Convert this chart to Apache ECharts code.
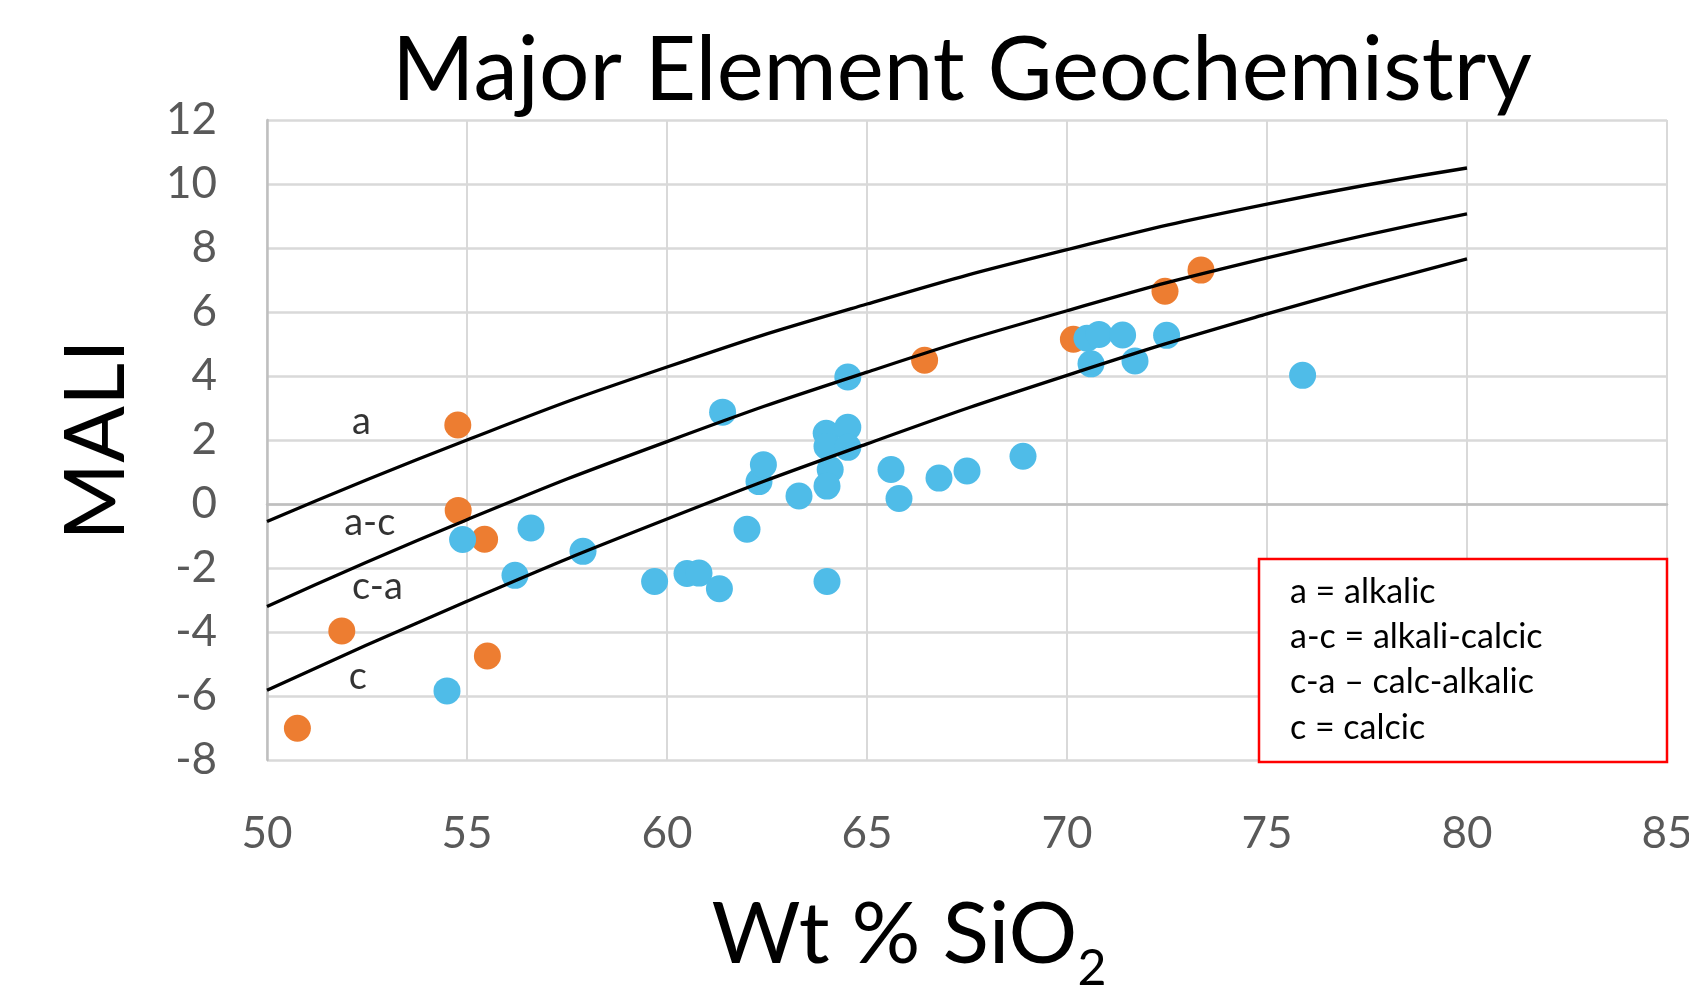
<!DOCTYPE html>
<html>
<head>
<meta charset="utf-8">
<script src="https://cdn.jsdelivr.net/npm/echarts@6/dist/echarts.min.js"></script>
<style>
  html, body { margin: 0; padding: 0; background: #fff; }
  #chart { width: 1689px; height: 989px; }
</style>
</head>
<body>
<div id="chart"></div>
<script>
// samples: [wt% SiO2, MALI]
const orangeSamples = [
  [50.76, -7.01], [51.87, -3.97], [54.77, 2.47], [54.78, -0.2], [55.44, -1.1],
  [55.51, -4.75], [66.44, 4.49], [70.16, 5.15], [72.45, 6.65], [73.35, 7.31]
];
const blueSamples = [
  [54.89, -1.11], [54.5, -5.84], [56.2, -2.23], [56.6, -0.75], [57.9, -1.48],
  [59.69, -2.42], [60.5, -2.17], [60.8, -2.16], [61.31, -2.65], [61.39, 2.87],
  [62.0, -0.79], [62.3, 0.7], [62.41, 1.23], [63.3, 0.25], [63.98, 2.21],
  [64.0, 1.8], [64.08, 1.08], [64.0, 0.56], [64.0, -2.42], [64.52, 3.97],
  [64.52, 2.4], [64.52, 1.77], [65.6, 1.08], [65.8, 0.17], [66.8, 0.81],
  [67.5, 1.03], [68.9, 1.49], [70.5, 5.18], [70.8, 5.3], [70.6, 4.38],
  [71.39, 5.28], [71.7, 4.47], [72.49, 5.27], [75.89, 4.02]
];

// boundary curves, read every 5 wt% SiO2
const curveSiO2 = [50, 55, 60, 65, 70, 75, 80];
const alkalicBoundary = [-0.55, 2.0, 4.28, 6.25, 7.95, 9.37, 10.5];
const alkaliCalcicBoundary = [-3.2, -0.49, 1.95, 4.12, 6.04, 7.69, 9.07];
const calcAlkalicBoundary = [-5.82, -3.04, -0.47, 1.88, 4.02, 5.94, 7.66];

const zoneNames = ["a", "a-c", "c-a", "c"];
const zoneLabelAt = [[52.36, 2.56], [52.57, -0.58], [52.76, -2.59], [52.27, -5.39]];

const legendLines = [
  "a = alkalic",
  "a-c = alkali-calcic",
  "c-a \u2013 calc-alkalic",
  "c = calcic"
];

const font = 'Lato, "Open Sans", sans-serif';
const chart = echarts.init(document.getElementById("chart"));

const pairs = (ys) => curveSiO2.map((x, i) => [x, ys[i]]);
const curve = (ys) => ({
  type: "line",
  data: pairs(ys),
  smooth: true,
  symbol: "none",
  lineStyle: { color: "#000", width: 3.3 },
  silent: true,
});

chart.setOption({
  animation: false,
  title: {
    text: "Major Element Geochemistry",
    left: 957,
    top: 22,
    textAlign: "center",
    textStyle: { fontFamily: font, fontSize: 89, fontWeight: "normal", color: "#000" },
  },
  grid: { left: 267, right: 22, top: 120, bottom: 229, outerBoundsMode: "none" },
  xAxis: {
    type: "value",
    min: 50,
    max: 85,
    interval: 5,
    name: "Wt % SiO{sub|2}",
    nameLocation: "middle",
    nameGap: 116,
    nameTextStyle: {
      fontFamily: font,
      fontSize: 86,
      color: "#000",
      padding: [0, 116, 0, 0],
      rich: {
        sub: { fontFamily: font, fontSize: 50, color: "#000", padding: [68, 0, 0, 0] },
      },
    },
    axisLine: { lineStyle: { color: "#bfbfbf", width: 2.5 } },
    axisTick: { show: false },
    axisLabel: { margin: 52, fontFamily: font, fontSize: 44, color: "#595959" },
    splitLine: { lineStyle: { color: "#d9d9d9", width: 2 } },
  },
  yAxis: {
    type: "value",
    min: -8,
    max: 12,
    interval: 2,
    name: "MALI",
    nameLocation: "middle",
    nameGap: 128,
    nameRotate: 90,
    nameTextStyle: { fontFamily: font, fontSize: 84, color: "#000" },
    axisLine: { show: true, lineStyle: { color: "#bfbfbf", width: 2.5 } },
    axisTick: { show: false },
    axisLabel: { margin: 50, fontFamily: font, fontSize: 44, color: "#595959" },
    splitLine: { lineStyle: { color: "#d9d9d9", width: 2.5 } },
  },
  series: [
    {
      type: "scatter",
      data: orangeSamples,
      symbolSize: 27,
      itemStyle: { color: "#ED7D31", opacity: 1 },
    },
    {
      type: "scatter",
      data: blueSamples,
      symbolSize: 27,
      itemStyle: { color: "#4FBCE8", opacity: 1 },
    },
    curve(alkalicBoundary),
    curve(alkaliCalcicBoundary),
    curve(calcAlkalicBoundary),
    {
      type: "scatter",
      symbolSize: 0,
      silent: true,
      data: zoneNames.map((n, i) => ({ name: n, value: zoneLabelAt[i] })),
      label: {
        show: true,
        position: "inside",
        formatter: "{b}",
        fontFamily: font,
        fontSize: 38,
        color: "#000",
      },
    },
  ],
  graphic: [
    {
      type: "rect",
      z: 100,
      shape: { x: 1259, y: 559, width: 408, height: 203 },
      style: { fill: "#fff", stroke: "#ff0000", lineWidth: 2.5 },
    },
    {
      type: "text",
      z: 101,
      x: 1290,
      y: 569,
      style: {
        text: legendLines.join("\n"),
        fontFamily: font,
        fontSize: 34,
        lineHeight: 45.3,
        fill: "#000",
      },
    },
  ],
});
</script>
</body>
</html>
